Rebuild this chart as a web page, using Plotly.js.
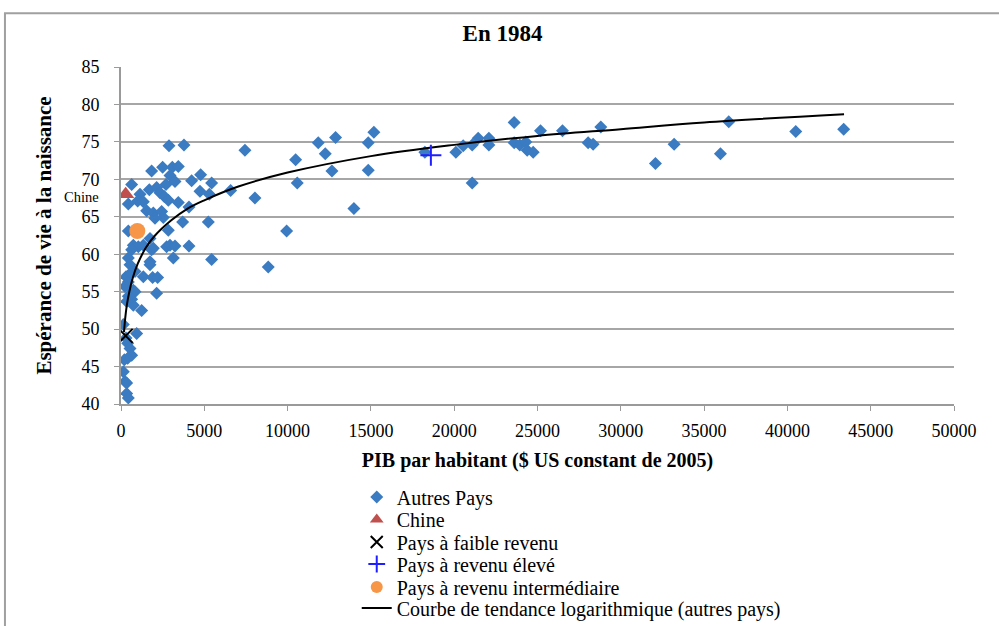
<!DOCTYPE html>
<html>
<head>
<meta charset="utf-8">
<script src="https://cdn.plot.ly/plotly-3.0.1.min.js"></script>
<style>
html,body{margin:0;padding:0;background:#fff;}
#chart{width:999px;height:626px;}
</style>
</head>
<body>
<div id="chart"></div>
<script>
// Autres pays: PIB par habitant ($ US constant 2005) and life expectancy (1984)
var otherGdp = [7440,5440,5300,6580,8040,5240,5440,8840,9940,10480,10580,11840,12260,12880,12660,13980,14840,15180,14840,18240,
 20100,20540,21080,21440,22080,22080,21080,23600,23600,23940,24300,24380,24740,25180,26500,28040,28340,28800,32080,33200,
 35980,36480,40500,43380,2880,3780,1840,2500,3080,3440,2940,3240,2700,4240,4780,640,1700,2140,1140,2340,
 2600,2840,4740,3440,1000,1340,440,1540,1940,2440,2540,4080,2040,3700,2840,440,1740,740,1040,1340,
 1940,2740,2940,3240,4080,640,1840,3140,440,540,1740,1740,840,1340,1900,2200,300,440,740,2140,
 240,840,640,740,1240,140,940,400,540,640,400,200,140,240,340,340,440,440,340,300,580];
var otherLife = [73.9,69.5,68.0,68.5,67.5,64.3,59.3,58.3,63.1,72.6,69.5,74.9,73.4,75.6,71.1,66.1,74.9,76.3,71.2,73.6,
 73.6,74.5,74.6,75.5,75.5,74.6,69.5,77.6,74.9,74.6,75.0,73.9,73.6,76.5,76.5,74.9,74.7,77.0,72.1,74.7,
 73.4,77.7,76.4,76.7,74.5,74.6,71.1,71.6,71.6,71.7,70.5,69.7,69.3,69.8,70.6,69.3,68.6,68.9,68.0,68.2,
 67.7,67.2,68.4,66.9,67.1,67.0,66.7,65.8,65.5,65.7,64.9,66.3,64.8,64.3,63.2,63.1,62.1,61.2,61.0,61.2,
 60.8,61.0,61.2,61.1,61.1,60.6,60.6,59.5,59.5,58.6,59.0,58.6,57.7,57.0,56.9,56.9,57.0,56.3,55.2,54.8,
 55.7,55.0,54.0,53.2,52.5,50.6,49.4,48.1,47.4,46.5,46.1,45.9,44.3,43.0,42.8,41.4,40.8,54.4,53.7,48.8,57.5];

var chinaGdp = [280],  chinaLife = [68.0];
var lowGdp = [280],    lowLife = [49.1];
var highGdp = [18600], highLife = [73.2];
var midGdp = [980],    midLife = [63.1];

// Logarithmic trend line (autres pays)
var trendGdp  = [180,250,350,500,700,1000,1500,2000,3000,4000,5000,7000,10000,15000,20000,25000,30000,35000,43400];
var trendLife = [49.6,51.4,53.2,55.0,56.8,58.7,60.9,62.4,64.5,66.1,67.2,69.0,70.9,73.1,74.6,75.8,76.7,77.6,78.7];

var xTicks = [0,5000,10000,15000,20000,25000,30000,35000,40000,45000,50000];
var yTicks = [40,45,50,55,60,65,70,75,80,85];

var serif = 'Liberation Serif, Times New Roman, serif';

var traces = [
  {x: otherGdp, y: otherLife, mode: 'markers', type: 'scatter', name: 'Autres Pays', legend: 'legend',
   marker: {symbol: 'diamond', size: 10, color: '#3a7bc2'}},
  {x: trendGdp, y: trendLife, mode: 'lines', type: 'scatter', name: 'Courbe de tendance logarithmique (autres pays)', legend: 'legend6',
   line: {color: '#000', width: 2, shape: 'spline'}},
  {x: chinaGdp, y: chinaLife, mode: 'markers', type: 'scatter', name: 'Chine', legend: 'legend2',
   marker: {symbol: 'triangle-up', size: 15, color: '#c0504d'}},
  {x: lowGdp, y: lowLife, mode: 'markers', type: 'scatter', name: 'Pays à faible revenu', legend: 'legend3',
   marker: {symbol: 'x-thin-open', size: 14, color: '#000', line: {color: '#000', width: 2}}},
  {x: highGdp, y: highLife, mode: 'markers', type: 'scatter', name: 'Pays à revenu élevé', legend: 'legend4',
   marker: {symbol: 'cross-thin-open', size: 15, color: '#1f1fff', line: {color: '#1f1fff', width: 2}}},
  {x: midGdp, y: midLife, mode: 'markers', type: 'scatter', name: 'Pays à revenu intermédiaire', legend: 'legend5',
   marker: {symbol: 'circle', size: 16, color: '#f79646'}}
];

function leg(py, sizing) {
  return {x: 0.283, xanchor: 'left', y: (404 - py) / 337, yanchor: 'middle', itemsizing: sizing,
    font: {family: serif, size: 20, color: '#000'}, bgcolor: 'rgba(0,0,0,0)', itemwidth: 30};
}

var layout = {
  width: 999, height: 626,
  margin: {l: 121, r: 45, t: 67, b: 222, autoexpand: false},
  paper_bgcolor: '#fff', plot_bgcolor: '#fff',
  font: {family: serif, color: '#000', size: 18},
  title: {text: '<b>En 1984</b>', font: {family: serif, size: 23, color: '#000'}, x: 0.503, xanchor: 'center', y: 0.947, yanchor: 'middle'},
  xaxis: {range: [0, 50000], tickvals: xTicks, ticktext: xTicks.map(String), showgrid: false, zeroline: false,
    showline: true, linecolor: '#9a9a9a', linewidth: 2, ticks: 'outside', ticklen: 5, tickcolor: '#9a9a9a', tickwidth: 1,
    ticklabelstandoff: 4, tickfont: {family: serif, size: 18},
    title: {text: '<b>PIB par habitant ($ US constant de 2005)</b>', font: {family: serif, size: 20}, standoff: 13}},
  yaxis: {range: [40, 85], tickvals: yTicks, ticktext: yTicks.map(String), showgrid: true, gridcolor: '#a6a6a6', gridwidth: 2,
    zeroline: false, showline: true, linecolor: '#9a9a9a', linewidth: 2, ticks: 'outside', ticklen: 5, tickcolor: '#9a9a9a',
    ticklabelstandoff: 11, tickfont: {family: serif, size: 18},
    title: {text: '<b>Espérance de vie à la naissance</b>', font: {family: serif, size: 21}, standoff: 24}},
  showlegend: true,
  legend: leg(497, 'trace'), legend2: leg(519.5, 'constant'), legend3: leg(542, 'constant'),
  legend4: leg(564, 'constant'), legend5: leg(587, 'constant'), legend6: leg(608, 'trace'),
  annotations: [{xref: 'paper', yref: 'y', x: -0.024, y: 67.7, xanchor: 'right', yanchor: 'middle', text: 'Chine',
    showarrow: false, font: {family: serif, size: 14.5, color: '#000'}}],
  shapes: [{type: 'rect', xref: 'paper', yref: 'paper', x0: -0.1393, x1: 1.06, y0: -0.75, y1: 1.1596,
    line: {color: '#a0a0a0', width: 2}, fillcolor: 'rgba(0,0,0,0)', layer: 'below'}]
};

Plotly.newPlot('chart', traces, layout, {staticPlot: true});
</script>
</body>
</html>
